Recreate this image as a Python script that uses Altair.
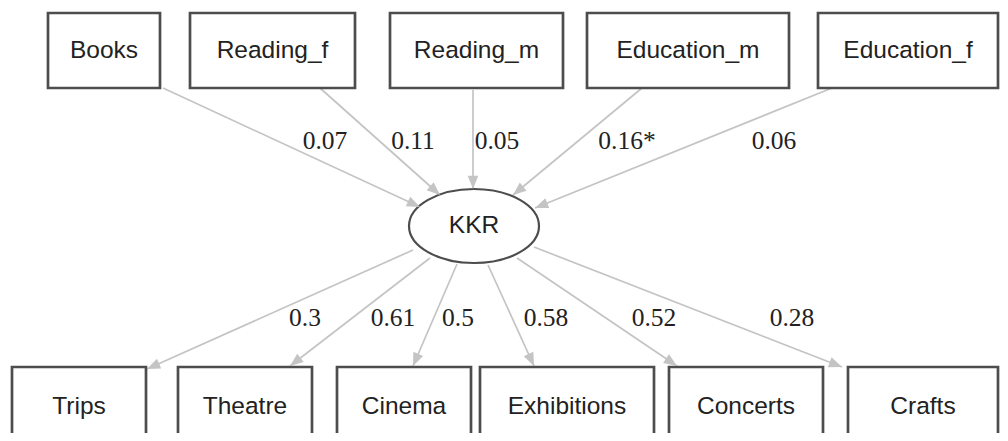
import math
import altair as alt
import pandas as pd

# ---- content ----
top_nodes = ["Books", "Reading_f", "Reading_m", "Education_m", "Education_f"]
top_coef = ["0.07", "0.11", "0.05", "0.16*", "0.06"]
bottom_nodes = ["Trips", "Theatre", "Cinema", "Exhibitions", "Concerts", "Crafts"]
bottom_coef = ["0.3", "0.61", "0.5", "0.58", "0.52", "0.28"]
latent = "KKR"

# ---- layout (pixel coordinates of the diagram) ----
top_x0 = [48, 190, 390, 587, 818]
top_x1 = [160, 355, 563, 789, 998]
top_y0, top_y1, top_ty = 13, 88, 51
bot_x0 = [12, 178, 337, 480, 669, 848]
bot_x1 = [146, 312, 471, 654, 823, 998]
bot_y0, bot_y1, bot_ty = 367, 448, 407
lat_x, lat_y, lat_rx, lat_ry = 474, 226, 65, 37

# edges: start and arrow-tip points
top_sx = [163, 320, 473, 642, 832]
top_sy = [88, 88, 90, 88, 88]
top_ex = [420, 440, 473, 513, 535]
top_ey = [207, 195, 189, 195, 208]
bot_sx = [413, 430, 457, 488, 517, 534]
bot_sy = [250, 258, 264, 265, 258, 247]
bot_ex = [147, 290, 413, 534, 677, 842]
bot_ey = [369, 366, 366, 366, 366, 367]
# coefficient label positions
top_lx = [325, 413, 497, 627, 774]
top_ly = [141, 141, 141, 141, 141]
bot_lx = [305, 393, 458, 546, 654, 792]
bot_ly = [318, 318, 318, 318, 318, 318]

boxes = pd.DataFrame({
    "name": top_nodes + bottom_nodes,
    "x0": top_x0 + bot_x0,
    "x1": top_x1 + bot_x1,
    "y0": [top_y0] * 5 + [bot_y0] * 6,
    "y1": [top_y1] * 5 + [bot_y1] * 6,
    "tx": [(a + b) / 2 for a, b in zip(top_x0 + bot_x0, top_x1 + bot_x1)],
    "ty": [top_ty] * 5 + [bot_ty] * 6,
})

sx = top_sx + bot_sx
sy = top_sy + bot_sy
ex = top_ex + bot_ex
ey = top_ey + bot_ey
ang = [math.degrees(math.atan2(x2 - x1, -(y2 - y1))) % 360
       for x1, y1, x2, y2 in zip(sx, sy, ex, ey)]
edges = pd.DataFrame({
    "sx": sx, "sy": sy, "ex": ex, "ey": ey, "ang": ang,
    "coef": top_coef + bottom_coef,
    "lx": top_lx + bot_lx, "ly": top_ly + bot_ly,
})
lat = pd.DataFrame({"name": [latent], "x": [lat_x], "y": [lat_y]})

W, H = 992, 425
xs = alt.Scale(domain=[8, 8 + W], nice=False, zero=False)
ys = alt.Scale(domain=[8, 8 + H], nice=False, zero=False, reverse=True)
X = lambda f: alt.X(f, type="quantitative", scale=xs, axis=None)
Y = lambda f: alt.Y(f, type="quantitative", scale=ys, axis=None)

EDGE = "#c4c4c4"
BOX = "#4d4d4d"

lines = alt.Chart(edges).mark_rule(color=EDGE, strokeWidth=1.7).encode(
    x=X("sx"), y=Y("sy"), x2="ex", y2="ey")

heads = alt.Chart(edges).mark_point(
    shape="M0,0L-0.4,1L0.4,1Z", filled=True, color=EDGE, opacity=1, size=700
).encode(x=X("ex"), y=Y("ey"), angle=alt.Angle("ang:Q", scale=None))

rects = alt.Chart(boxes).mark_rect(fill="white", stroke=BOX, strokeWidth=2.7).encode(
    x=X("x0"), x2="x1", y=Y("y0"), y2="y1")

box_text = alt.Chart(boxes).mark_text(
    font="Liberation Sans", fontSize=24.5, color="#222222", baseline="middle", align="center"
).encode(x=X("tx"), y=Y("ty"), text="name:N")

ellipse = alt.Chart(lat).mark_point(
    shape="M-1,0A1,%.4f,0,1,1,1,0A1,%.4f,0,1,1,-1,0Z" % (lat_ry / lat_rx, lat_ry / lat_rx),
    fill="white", stroke=BOX, strokeWidth=2.2, opacity=1, fillOpacity=1,
    size=(2 * lat_rx) ** 2,
).encode(x=X("x"), y=Y("y"))

lat_text = alt.Chart(lat).mark_text(
    font="Liberation Sans", fontSize=24.5, color="#222222", baseline="middle", align="center"
).encode(x=X("x"), y=Y("y"), text="name:N")

coef_text = alt.Chart(edges).mark_text(
    font="Liberation Serif", fontSize=25.5, color="#222222", baseline="middle", align="center"
).encode(x=X("lx"), y=Y("ly"), text="coef:N")

chart = alt.layer(lines, rects, ellipse, heads, box_text, lat_text, coef_text).properties(
    width=W, height=H, padding=0, background="white",
    autosize=alt.AutoSizeParams(type="none")
).configure_view(stroke=None)

chart.save("out.html", embed_options={"renderer": "svg", "actions": False})
